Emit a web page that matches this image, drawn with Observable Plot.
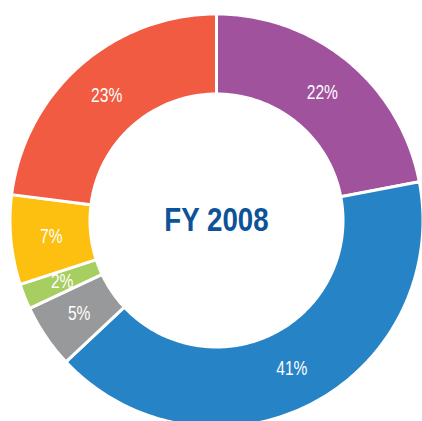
<!DOCTYPE html>
<html>
<head>
<meta charset="utf-8">
<script src="https://cdn.jsdelivr.net/npm/d3@7"></script>
<script src="https://cdn.jsdelivr.net/npm/@observablehq/plot@0.6"></script>
<style>
  html, body { margin: 0; padding: 0; background: #fff; }
  #chart { width: 422px; height: 421px; }
</style>
</head>
<body>
<div id="chart"></div>
<script>
// ---- data ----
const title = "FY 2008";
const categories = ["Segment A", "Segment B", "Segment C", "Segment D", "Segment E", "Segment F"];
const values = [22, 41, 5, 2, 7, 23];
const labels = ["22%", "41%", "5%", "2%", "7%", "23%"];
const colors = ["#a0529d", "#2683c6", "#98999b", "#a6ce60", "#fdc010", "#f05b41"];

// ---- geometry (layout constants) ----
const W = 422, H = 421;
const cx = 216, cy = 220;       // center in pixels
const R = 206.5, r = 126.5;      // outer/inner radius (white stroke trims 1.5px)
const labelR = 166;

const total = d3.sum(values);
const pts = [];
const labelData = [];
let acc = 0;
categories.forEach((key, i) => {
  const a0 = acc / total * 2 * Math.PI;
  const a1 = (acc + values[i]) / total * 2 * Math.PI;
  acc += values[i];
  const steps = Math.max(2, Math.ceil((a1 - a0) / (2 * Math.PI) * 360));
  for (let k = 0; k <= steps; k++) {
    const a = a0 + (a1 - a0) * k / steps;
    pts.push({key, x: R * Math.sin(a), y: R * Math.cos(a)});
  }
  for (let k = steps; k >= 0; k--) {
    const a = a0 + (a1 - a0) * k / steps;
    pts.push({key, x: r * Math.sin(a), y: r * Math.cos(a)});
  }
  const m = (a0 + a1) / 2;
  labelData.push({key, text: labels[i], x: labelR * Math.sin(m), y: labelR * Math.cos(m)});
});

const font = "'Liberation Sans', Arial, sans-serif";

const chart = Plot.plot({
  width: W,
  height: H,
  margin: 0,
  x: {domain: [-cx, W - cx], axis: null},
  y: {domain: [-(H - cy), cy], axis: null},
  color: {type: "ordinal", domain: categories, range: colors},
  style: {background: "#fff"},
  marks: [
    Plot.line(pts, {x: "x", y: "y", z: "key", fill: "key", stroke: "white", strokeWidth: 3, curve: "linear-closed"}),
    Plot.text(labelData, {x: "x", y: "y", text: "text", fill: "white", fontSize: 20, fontFamily: font, className: "slice-label"}),
    Plot.text([title], {x: () => 0, y: () => 0, text: d => d, fill: "#0d5397", fontSize: 33, fontWeight: "bold", fontFamily: font, className: "title-label"})
  ]
});
document.getElementById("chart").appendChild(chart);

// condense glyphs horizontally (no condensed font installed)
function condense(selector, sx) {
  chart.querySelectorAll(selector + " text").forEach(t => {
    const tr = t.getAttribute("transform") || "";
    t.setAttribute("transform", tr + ` scale(${sx},1)`);
  });
}
condense(".slice-label", 0.78);
condense(".title-label", 0.84);
</script>
</body>
</html>
